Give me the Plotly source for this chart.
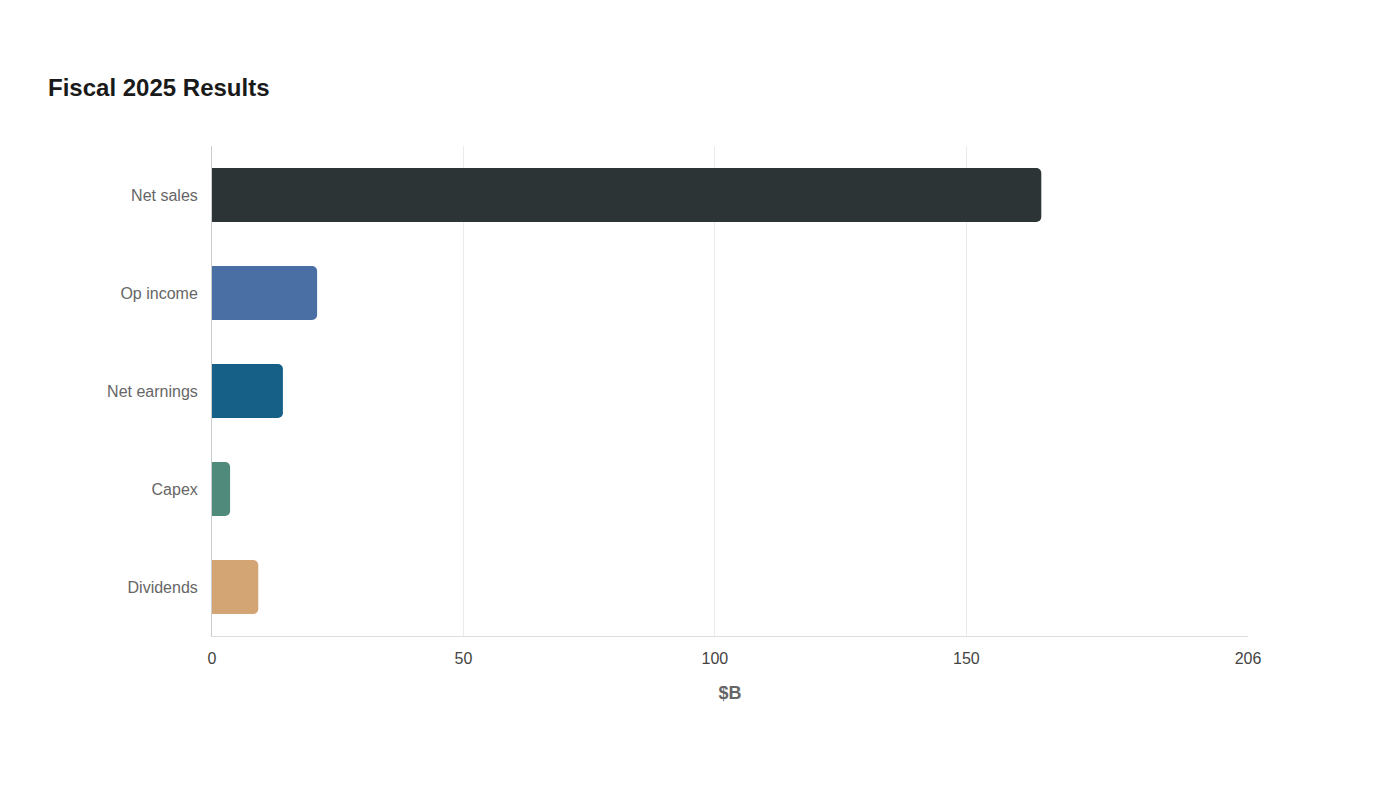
import plotly.graph_objects as go

# Fiscal 2025 results, $B
categories = ["Net sales", "Op income", "Net earnings", "Capex", "Dividends"]
values = [164.9, 20.9, 14.1, 3.6, 9.2]
colors = ["#2d3436", "#4a6fa5", "#166088", "#4f8a7b", "#d4a574"]
tick_vals = [0, 50, 100, 150, 206]

fig = go.Figure(go.Bar(
    x=values, y=categories, orientation="h",
    marker=dict(color=colors, cornerradius=5, line=dict(width=0)),
    text=[f"{v:g}" for v in values], textposition="outside",
    textfont=dict(color="white", size=14), cliponaxis=False,
    width=0.55,
))

fig.update_layout(
    width=1400, height=800,
    paper_bgcolor="white", plot_bgcolor="white",
    font=dict(family="Liberation Sans, Arial, sans-serif", color="#666666", size=16),
    title=dict(text="<b>Fiscal 2025 Results</b>", x=0.0286, xanchor="left",
               y=0.9, yanchor="middle", font=dict(size=24, color="#1a1a1a")),
    margin=dict(l=204, r=160, t=138, b=172),
    showlegend=False,
    xaxis=dict(range=[0, 206], tickvals=tick_vals, ticktext=[str(t) for t in tick_vals],
               showgrid=True, gridcolor="#ebebeb", zeroline=False,
               showline=True, linecolor="#dddddd", ticks="outside", ticklen=8,
               tickcolor="white", tickfont=dict(size=16, color="#444444"),
               title=dict(text="<b>$B</b>", font=dict(size=18, color="#666666"), standoff=20)),
    yaxis=dict(categoryorder="array", categoryarray=categories[::-1],
               showline=True, linecolor="#cccccc", ticks="outside", ticklen=10,
               tickcolor="white", tickfont=dict(size=16, color="#666666")),
)

fig.write_html("out.html")
